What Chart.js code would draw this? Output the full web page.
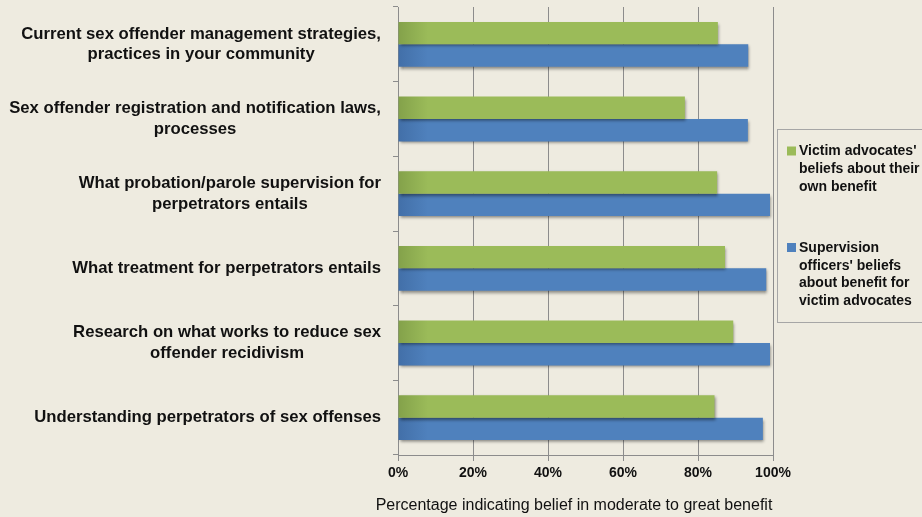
<!DOCTYPE html>
<html>
<head>
<meta charset="utf-8">
<script src="https://cdn.jsdelivr.net/npm/chart.js@4/dist/chart.umd.min.js"></script>
<style>
  html, body { margin: 0; padding: 0; background: #eeebe0; }
  #wrap { width: 922px; height: 517px; position: relative; }
</style>
</head>
<body>
<div id="wrap"><canvas id="chartBenefit"></canvas></div>
<script>
  // categorias (cada una en lineas, como en el original)
  const categories = [
    ['Current sex offender management strategies,', 'practices in your community'],
    ['Sex offender registration and notification laws,', 'processes'],
    ['What probation/parole supervision for', 'perpetrators entails'],
    ['What treatment for perpetrators entails'],
    ['Research on what works to reduce sex', 'offender recidivism'],
    ['Understanding perpetrators of sex offenses']
  ];
  const victimAdvocates = [85.3, 76.5, 85.1, 87.2, 89.4, 84.4];
  const supervisionOfficers = [93.4, 93.3, 99.2, 98.2, 99.2, 97.3];
  const seriesLabels = [
    ["Victim advocates'", 'beliefs about their', 'own benefit'],
    ['Supervision', "officers' beliefs", 'about benefit for', 'victim advocates']
  ];
  const xTickValues = [0, 20, 40, 60, 80, 100];
  const axisTitle = 'Percentage indicating belief in moderate to great benefit';

  const GREEN = '#9bbb59', GREEN_DARK = '#83a14a';
  const BLUE = '#4f81bd', BLUE_DARK = '#426fa8';
  const GRID = '#8c8c8c';
  const FONT = '"Liberation Sans", Arial, sans-serif';

  const barFill = (base, dark) => ctx => {
    const area = ctx.chart.chartArea;
    if (!area) return base;
    const g = ctx.chart.ctx.createLinearGradient(area.left, 0, area.left + 30, 0);
    g.addColorStop(0, dark);
    g.addColorStop(1, base);
    return g;
  };

  // sombra de las barras
  const barShadow = {
    id: 'barShadow',
    beforeDatasetsDraw(chart) {
      const c = chart.ctx;
      c.save();
      c.shadowColor = 'rgba(0,0,0,0.45)';
      c.shadowBlur = 3;
      c.shadowOffsetX = 1;
      c.shadowOffsetY = 2;
    },
    afterDatasetsDraw(chart) { chart.ctx.restore(); }
  };

  // etiquetas del eje Y: bloque alineado a la derecha, lineas centradas
  const yLabels = {
    id: 'yLabels',
    afterDraw(chart) {
      const c = chart.ctx;
      const y = chart.scales.y;
      const right = chart.chartArea.left - 17;
      c.save();
      c.font = 'bold 16.7px ' + FONT;
      c.fillStyle = '#111';
      c.textAlign = 'center';
      c.textBaseline = 'middle';
      categories.forEach((lines, i) => {
        const cy = y.getPixelForValue(i);
        const w = Math.max(...lines.map(l => c.measureText(l).width));
        const cx = right - w / 2;
        const lh = 20.5;
        lines.forEach((l, j) => {
          c.fillText(l, cx, cy + (j - (lines.length - 1) / 2) * lh);
        });
      });
      // titulo del eje X, algo corrido a la izquierda como en el original
      c.font = '16px ' + FONT;
      c.fillText(axisTitle, chart.chartArea.left + 176, 506);
      c.restore();
    }
  };

  // leyenda en caja a la derecha (cortada por el borde)
  const sideLegend = {
    id: 'sideLegend',
    afterDraw(chart) {
      const c = chart.ctx;
      const left = chart.chartArea.right + 4;
      c.save();
      c.strokeStyle = '#a6a6a6';
      c.lineWidth = 1;
      c.strokeRect(left + 0.5, 129.5, 200, 193);
      c.font = 'bold 14px ' + FONT;
      c.fillStyle = '#111';
      c.textBaseline = 'middle';
      const colors = [GREEN, BLUE];
      const tops = [151.5, 248];
      seriesLabels.forEach((lines, k) => {
        c.fillStyle = colors[k];
        c.fillRect(left + 10, tops[k] - 5, 9, 9);
        c.fillStyle = '#111';
        lines.forEach((l, j) => c.fillText(l, left + 22, tops[k] + j * 17.7));
      });
      c.restore();
    }
  };

  new Chart(document.getElementById('chartBenefit').getContext('2d'), {
    type: 'bar',
    data: {
      labels: categories,
      datasets: [
        {
          label: seriesLabels[0].join(' '),
          data: victimAdvocates,
          backgroundColor: barFill(GREEN, GREEN_DARK),
          categoryPercentage: 0.6,
          barPercentage: 1.0
        },
        {
          label: seriesLabels[1].join(' '),
          data: supervisionOfficers,
          backgroundColor: barFill(BLUE, BLUE_DARK),
          categoryPercentage: 0.6,
          barPercentage: 1.0
        }
      ]
    },
    options: {
      indexAxis: 'y',
      responsive: true,
      maintainAspectRatio: false,
      animation: false,
      layout: { padding: { left: 0, top: 7, right: 149, bottom: 0 } },
      scales: {
        x: {
          min: 0,
          max: 100,
          afterFit: s => { s.height = 62; },
          afterBuildTicks: s => { s.ticks = xTickValues.map(v => ({ value: v })); },
          grid: { color: GRID, tickLength: 6 },
          border: { color: GRID },
          ticks: {
            callback: v => v + '%',
            color: '#111',
            padding: 4,
            font: { family: FONT, size: 14, weight: 'bold' }
          },
          title: { display: false }
        },
        y: {
          afterFit: s => { s.width = 398; },
          grid: { drawOnChartArea: false, drawTicks: true, tickLength: 5, color: GRID, offset: true },
          border: { color: GRID },
          ticks: { display: false }
        }
      },
      plugins: {
        legend: { display: false },
        tooltip: { enabled: false }
      }
    },
    plugins: [barShadow, yLabels, sideLegend]
  });
</script>
</body>
</html>
